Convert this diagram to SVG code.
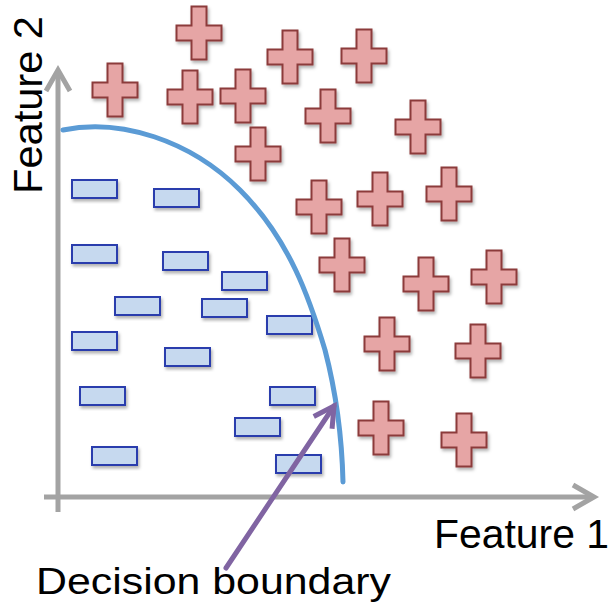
<svg xmlns="http://www.w3.org/2000/svg" xmlns:xlink="http://www.w3.org/1999/xlink" width="613" height="608" viewBox="0 0 613 608">
<style>
.plus{fill:#e6a5a5;stroke:#8c3b3b;stroke-width:2;stroke-linejoin:miter}
.minus{fill:#c6d9ef;stroke:#2a3cad;stroke-width:2}
.axis{fill:none;stroke:#a3a3a3;stroke-width:5}
.lbl{font-family:"Liberation Sans",Arial,sans-serif;fill:#000}
.shad{filter:url(#sh)}
</style>
<defs>
<filter id="sh" x="-30%" y="-30%" width="160%" height="160%">
<feDropShadow dx="1.5" dy="2.5" stdDeviation="1.5" flood-color="#000" flood-opacity="0.3"/>
</filter>
<path id="cross" d="M-7.5,-26.5H7.5V-7.5H22.5V7.5H7.5V26.5H-7.5V7.5H-22.5V-7.5H-7.5Z"/>
<marker id="openArrowGray" markerUnits="userSpaceOnUse" markerWidth="40" markerHeight="40" refX="25" refY="20" orient="auto" overflow="visible">
<path d="M4,8 L25,20 L4,32" fill="none" stroke="#a3a3a3" stroke-width="5" stroke-linejoin="miter"/>
</marker>
<marker id="openArrowPurple" markerUnits="userSpaceOnUse" markerWidth="40" markerHeight="40" refX="25" refY="20" orient="auto" overflow="visible">
<path d="M5,9 L25,20 L5,31" fill="none" stroke="#8064a2" stroke-width="5" stroke-linejoin="miter"/>
</marker>
</defs>
<rect width="613" height="608" fill="#fff"/>

<g id="axes">
<line class="axis" x1="58" y1="512" x2="58" y2="70" marker-end="url(#openArrowGray)"/>
<line class="axis" x1="44" y1="497" x2="594" y2="497" marker-end="url(#openArrowGray)"/>
</g>

<g id="pluses">
<g id="p1" class="shad"><use href="#cross" class="plus" x="199" y="33"/></g>
<g id="p2" class="shad"><use href="#cross" class="plus" x="290" y="57"/></g>
<g id="p3" class="shad"><use href="#cross" class="plus" x="364" y="56"/></g>
<g id="p4" class="shad"><use href="#cross" class="plus" x="115" y="90"/></g>
<g id="p5" class="shad"><use href="#cross" class="plus" x="190" y="97"/></g>
<g id="p6" class="shad"><use href="#cross" class="plus" x="243" y="96"/></g>
<g id="p7" class="shad"><use href="#cross" class="plus" x="328" y="116"/></g>
<g id="p8" class="shad"><use href="#cross" class="plus" x="418" y="127"/></g>
<g id="p9" class="shad"><use href="#cross" class="plus" x="258" y="154"/></g>
<g id="p10" class="shad"><use href="#cross" class="plus" x="319" y="207"/></g>
<g id="p11" class="shad"><use href="#cross" class="plus" x="380" y="199"/></g>
<g id="p12" class="shad"><use href="#cross" class="plus" x="449" y="194"/></g>
<g id="p13" class="shad"><use href="#cross" class="plus" x="342" y="265"/></g>
<g id="p14" class="shad"><use href="#cross" class="plus" x="426" y="284"/></g>
<g id="p15" class="shad"><use href="#cross" class="plus" x="494" y="277"/></g>
<g id="p16" class="shad"><use href="#cross" class="plus" x="387" y="344"/></g>
<g id="p17" class="shad"><use href="#cross" class="plus" x="478" y="351"/></g>
<g id="p18" class="shad"><use href="#cross" class="plus" x="381" y="428"/></g>
<g id="p19" class="shad"><use href="#cross" class="plus" x="464" y="440"/></g>
</g>

<g id="minuses">
<g id="m1" class="shad"><rect class="minus" x="72" y="180" width="45" height="18"/></g>
<g id="m2" class="shad"><rect class="minus" x="154" y="189" width="45" height="18"/></g>
<g id="m3" class="shad"><rect class="minus" x="72" y="245" width="45" height="18"/></g>
<g id="m4" class="shad"><rect class="minus" x="163" y="252" width="45" height="18"/></g>
<g id="m5" class="shad"><rect class="minus" x="222" y="272" width="45" height="18"/></g>
<g id="m6" class="shad"><rect class="minus" x="115" y="297" width="45" height="18"/></g>
<g id="m7" class="shad"><rect class="minus" x="202" y="299" width="45" height="18"/></g>
<g id="m8" class="shad"><rect class="minus" x="267" y="316" width="45" height="18"/></g>
<g id="m9" class="shad"><rect class="minus" x="72" y="332" width="45" height="18"/></g>
<g id="m10" class="shad"><rect class="minus" x="165" y="348" width="45" height="18"/></g>
<g id="m11" class="shad"><rect class="minus" x="80" y="387" width="45" height="18"/></g>
<g id="m12" class="shad"><rect class="minus" x="270" y="387" width="45" height="18"/></g>
<g id="m13" class="shad"><rect class="minus" x="235" y="418" width="45" height="18"/></g>
<g id="m14" class="shad"><rect class="minus" x="92" y="447" width="45" height="18"/></g>
<g id="m15" class="shad"><rect class="minus" x="276" y="455" width="45" height="18"/></g>
</g>

<g id="boundary">
<path d="M63,130 C120,118 190,140 240,190 C290,240 310,300 325,350 C338,400 342,440 343,482" fill="none" stroke="#5b9bd5" stroke-width="5" stroke-linecap="round"/>
</g>

<g id="connectors">
<line x1="226" y1="568" x2="334" y2="406" stroke="#8064a2" stroke-width="5" stroke-linecap="round" marker-end="url(#openArrowPurple)"/>
</g>

<g id="labels">
<text class="lbl" x="434" y="548" font-size="41" textLength="175" lengthAdjust="spacingAndGlyphs">Feature 1</text>
<text class="lbl" transform="translate(42,194) rotate(-90)" x="0" y="0" font-size="41" textLength="178" lengthAdjust="spacingAndGlyphs">Feature 2</text>
<text class="lbl" x="36" y="594" font-size="37" textLength="355" lengthAdjust="spacingAndGlyphs">Decision boundary</text>
</g>
</svg>
